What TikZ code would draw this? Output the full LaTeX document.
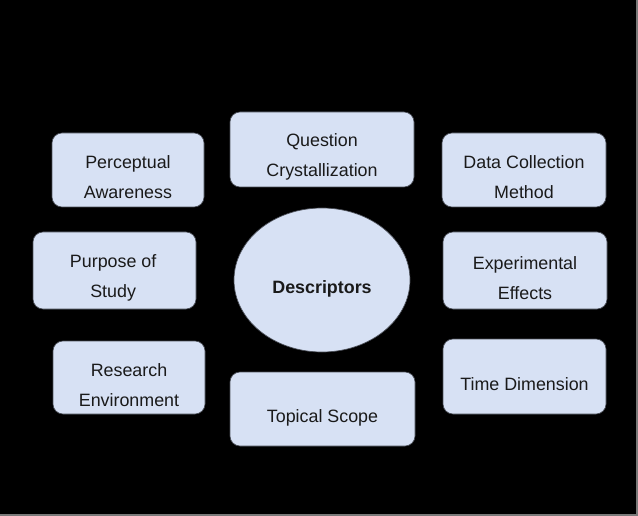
\documentclass[tikz,border=0pt]{standalone}
\usepackage{fontspec}
\setmainfont{Liberation Sans}
\usetikzlibrary{positioning, shapes.geometric}

\begin{document}
\begin{tikzpicture}[
    x=0.75pt, y=-0.75pt,
    every node/.style={font=\fontsize{13.4}{22.5}\selectfont, text=txtcolor},
    topicbox/.style={draw=edgecolor, line width=0.5pt, fill=boxfill,
        rounded corners=7.5pt, inner sep=0pt},
    topiclabel/.style={align=center, yshift=-5.5pt, text=txtcolor},
]

\definecolor{boxfill}{HTML}{D7E1F4}
\definecolor{edgecolor}{HTML}{4A4E57}
\definecolor{txtcolor}{HTML}{1A1A1A}
\definecolor{framecolor}{HTML}{7A7A7A}

% ------------------------------------------------------------ page
\fill[black] (0,0) rectangle (638,516);
\useasboundingbox (0,0) rectangle (638,516);
\draw[framecolor, line width=0.9pt] (637,0) -- (637,515) -- (0,515);

% ------------------------------------------------------------ centre
\node[draw=edgecolor, line width=0.5pt, fill=boxfill, ellipse,
      minimum width=132pt, minimum height=108pt, inner sep=0pt,
      label={[topiclabel, yshift=-1.5pt, font=\fontsize{13.4}{22.5}\selectfont\bfseries]center:Descriptors}]
    (desc) at (322,280) {};

% ------------------------------------------------------------ the eight descriptors
\node[topicbox, minimum width=114pt, minimum height=55.5pt,
      label={[topiclabel]center:Perceptual\\Awareness}]
    (perc) at (128,170) {};
\node[topicbox, minimum width=138pt, minimum height=56.25pt,
      label={[topiclabel]center:Question\\Crystallization}]
    (ques) at (322,149.5) {};
\node[topicbox, minimum width=123pt, minimum height=55.5pt,
      label={[topiclabel]center:Data Collection\\Method}]
    (data) at (524,170) {};
\node[topicbox, minimum width=122.25pt, minimum height=57.75pt,
      label={[topiclabel, xshift=-1pt]center:Purpose of\\Study}]
    (purp) at (114.5,270.5) {};
\node[topicbox, minimum width=123pt, minimum height=57.75pt,
      label={[topiclabel]center:Experimental\\Effects}]
    (expe) at (525,270.5) {};
\node[topicbox, minimum width=114pt, minimum height=54.75pt,
      label={[topiclabel]center:Research\\Environment}]
    (rese) at (129,377.5) {};
\node[topicbox, minimum width=138.75pt, minimum height=55.5pt,
      label={[topiclabel, yshift=-1.5pt]center:Topical Scope}]
    (topi) at (322.5,409) {};
\node[topicbox, minimum width=122.25pt, minimum height=56.25pt,
      label={[topiclabel]center:Time Dimension}]
    (time) at (524.5,376.5) {};

\end{tikzpicture}
\end{document}
